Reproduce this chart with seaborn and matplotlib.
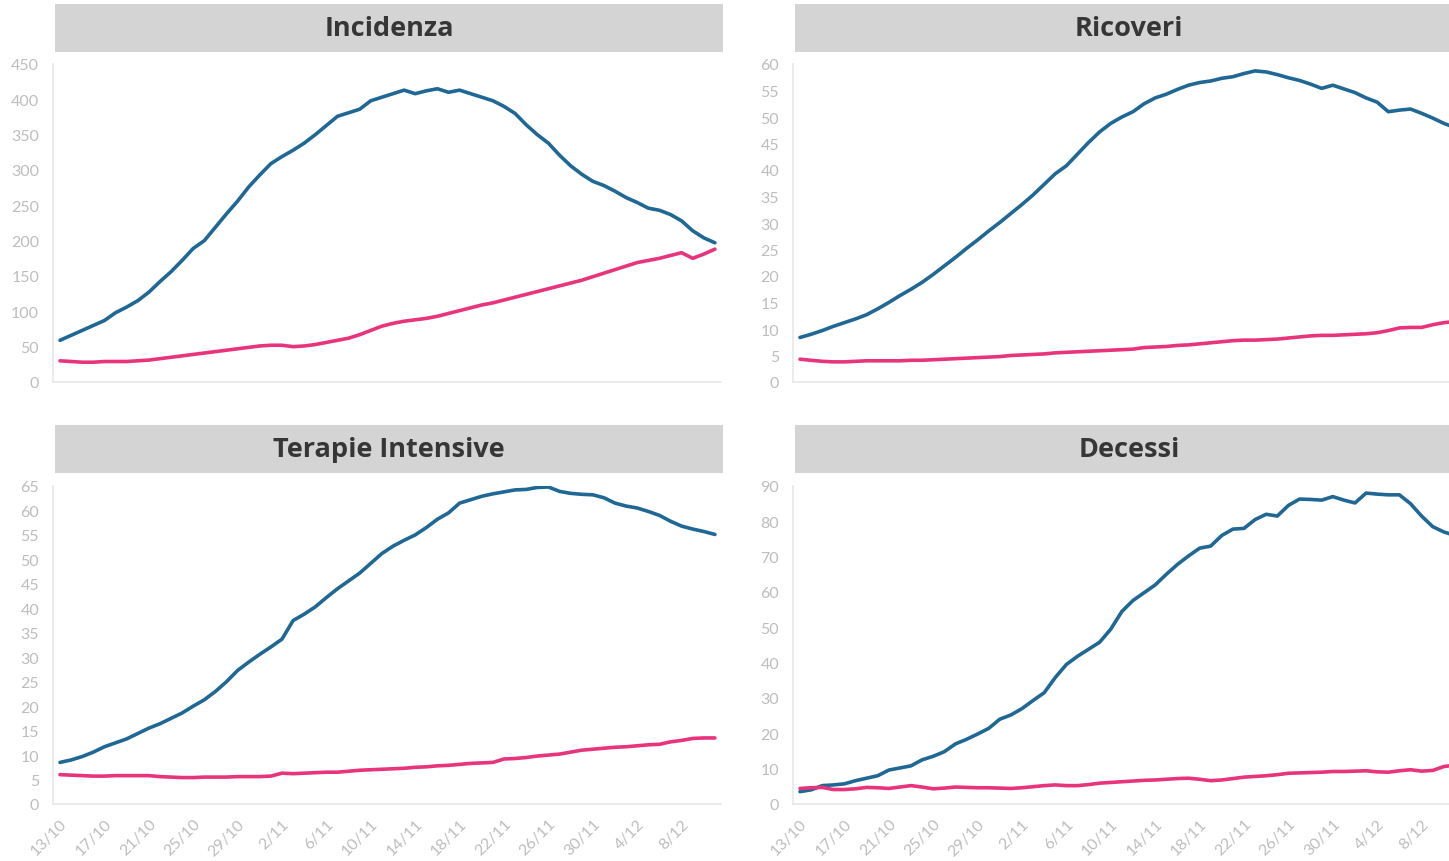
import seaborn as sns
import matplotlib.pyplot as plt
import matplotlib.patches as mpatches
import pandas as pd
import numpy as np

sns.set_theme(style='white')
plt.rcParams['font.family'] = ['Lato', 'DejaVu Sans']

# Dates: 13/10 -> 11/12 (daily)
dates = pd.date_range('2020-10-13', periods=60, freq='D')
date_labels = [f"{d.day}/{d.month}" for d in dates]

incidenza_blue = [59, 66, 73, 80, 87, 98, 106, 115, 127, 142,
                  156, 172, 189, 200, 219, 238, 256, 276, 293, 309,
                  319, 328, 338, 350, 363, 376, 381, 386, 398, 403,
                  408, 413, 408, 412, 415, 410, 413, 408, 403, 398,
                  390, 380, 364, 350, 338, 321, 306, 294, 284, 278,
                  270, 261, 254, 246, 243, 237, 228, 214, 204, 197]
incidenza_pink = [30, 29, 28, 28, 29, 29, 29, 30, 31, 33,
                  35, 37, 39, 41, 43, 45, 47, 49, 51, 52,
                  52, 50, 51, 53, 56, 59, 62, 67, 73, 79,
                  83, 86, 88, 90, 93, 97, 101, 105, 109, 112,
                  116, 120, 124, 128, 132, 136, 140, 144, 149, 154,
                  159, 164, 169, 172, 175, 179, 183, 175, 181, 188]

ricoveri_blue = [8.4, 9.0, 9.7, 10.5, 11.2, 11.9, 12.7, 13.8, 15.0, 16.3,
                 17.5, 18.8, 20.3, 21.9, 23.5, 25.2, 26.8, 28.5, 30.1, 31.8,
                 33.5, 35.3, 37.3, 39.3, 40.8, 43.0, 45.2, 47.2, 48.8, 50.0,
                 51.0, 52.5, 53.6, 54.3, 55.2, 56.0, 56.5, 56.8, 57.3, 57.6,
                 58.2, 58.7, 58.5, 58.0, 57.4, 56.9, 56.2, 55.4, 56.0, 55.3,
                 54.6, 53.6, 52.8, 51.0, 51.3, 51.5, 50.7, 49.8, 48.8, 48.0]
ricoveri_pink = [4.3, 4.1, 3.9, 3.8, 3.8, 3.9, 4.0, 4.0, 4.0, 4.0,
                 4.1, 4.1, 4.2, 4.3, 4.4, 4.5, 4.6, 4.7, 4.8, 5.0,
                 5.1, 5.2, 5.3, 5.5, 5.6, 5.7, 5.8, 5.9, 6.0, 6.1,
                 6.2, 6.5, 6.6, 6.7, 6.9, 7.0, 7.2, 7.4, 7.6, 7.8,
                 7.9, 7.9, 8.0, 8.1, 8.3, 8.5, 8.7, 8.8, 8.8, 8.9,
                 9.0, 9.1, 9.3, 9.7, 10.2, 10.3, 10.3, 10.8, 11.2, 11.4]

terapie_blue = [8.5, 9.0, 9.7, 10.6, 11.7, 12.5, 13.3, 14.4, 15.5, 16.4,
                17.5, 18.6, 20.0, 21.3, 23.0, 25.0, 27.3, 29.0, 30.6, 32.1,
                33.7, 37.5, 38.8, 40.3, 42.2, 44.0, 45.6, 47.2, 49.2, 51.2,
                52.7, 53.9, 55.0, 56.5, 58.2, 59.5, 61.5, 62.2, 62.9, 63.4,
                63.8, 64.2, 64.3, 64.7, 64.8, 63.9, 63.5, 63.3, 63.2, 62.6,
                61.5, 60.9, 60.5, 59.8, 59.0, 57.8, 56.8, 56.2, 55.7, 55.1]
terapie_pink = [6.0, 5.9, 5.8, 5.7, 5.7, 5.8, 5.8, 5.8, 5.8, 5.6,
                5.5, 5.4, 5.4, 5.5, 5.5, 5.5, 5.6, 5.6, 5.6, 5.7,
                6.3, 6.2, 6.3, 6.4, 6.5, 6.5, 6.7, 6.9, 7.0, 7.1,
                7.2, 7.3, 7.5, 7.6, 7.8, 7.9, 8.1, 8.3, 8.4, 8.5,
                9.2, 9.3, 9.5, 9.8, 10.0, 10.2, 10.6, 11.0, 11.2, 11.4,
                11.6, 11.7, 11.9, 12.1, 12.2, 12.7, 13.0, 13.4, 13.5, 13.5]

decessi_blue = [3.5, 4.0, 5.2, 5.4, 5.7, 6.6, 7.3, 8.0, 9.6, 10.2,
                10.8, 12.5, 13.5, 14.8, 17.0, 18.3, 19.8, 21.4, 24.0, 25.2,
                27.0, 29.3, 31.5, 35.8, 39.5, 41.8, 43.8, 45.8, 49.5, 54.5,
                57.6, 59.8, 62.0, 65.0, 67.8, 70.2, 72.4, 73.0, 76.0, 77.8,
                78.0, 80.5, 82.0, 81.5, 84.5, 86.3, 86.2, 86.0, 87.0, 86.0,
                85.2, 88.0, 87.7, 87.5, 87.5, 85.0, 81.5, 78.5, 77.0, 76.0]
decessi_pink = [4.4, 4.6, 4.7, 4.1, 4.1, 4.3, 4.7, 4.6, 4.4, 4.8,
                5.2, 4.8, 4.3, 4.5, 4.8, 4.7, 4.6, 4.6, 4.5, 4.4,
                4.6, 4.9, 5.2, 5.4, 5.2, 5.2, 5.5, 5.9, 6.1, 6.3,
                6.5, 6.7, 6.8, 7.0, 7.2, 7.3, 7.0, 6.6, 6.8, 7.2,
                7.6, 7.8, 8.0, 8.3, 8.7, 8.8, 8.9, 9.0, 9.2, 9.2,
                9.3, 9.4, 9.1, 9.0, 9.4, 9.7, 9.3, 9.5, 10.6, 11.0]

panels = ['Incidenza', 'Ricoveri', 'Terapie Intensive', 'Decessi']
blue_series = [incidenza_blue, ricoveri_blue, terapie_blue, decessi_blue]
pink_series = [incidenza_pink, ricoveri_pink, terapie_pink, decessi_pink]
y_max = [450, 60, 65, 90]
y_step = [50, 5, 5, 10]

BLUE = '#1f6896'
PINK = '#e8347c'
GRID = '#e8e8e8'
TICK = '#bdbdbd'

W, H = 1449, 862
fig = plt.figure(figsize=(W / 100, H / 100), dpi=100)

# pixel layout (left x of axes, y of value-0 line)
ax_left = [53, 793, 53, 793]
ax_zero = [383, 383, 805, 805]
ax_w, ax_h = 668, 318
box_top = [5, 5, 426, 426]
box_h = 48

days = np.arange(len(dates))

for i, name in enumerate(panels):
    ax = fig.add_axes([ax_left[i] / W, (H - ax_zero[i]) / H, ax_w / W, ax_h / H])
    df = pd.DataFrame({'day': np.concatenate([days, days]),
                       'value': blue_series[i] + pink_series[i],
                       'serie': ['a'] * len(days) + ['b'] * len(days)})
    sns.lineplot(data=df, x='day', y='value', hue='serie',
                 palette={'a': BLUE, 'b': PINK}, linewidth=2.6,
                 legend=False, ax=ax)
    ax.set_xlim(-0.63, 59.55)
    ax.set_ylim(0, y_max[i])
    ax.set_yticks(np.arange(0, y_max[i] + 1, y_step[i]))
    ax.set_xticks(days)
    if i >= 2:
        ax.set_xticklabels([lab if k % 4 == 0 else '' for k, lab in enumerate(date_labels)],
                           rotation=45, ha='right', va='top', rotation_mode='anchor')
    else:
        ax.set_xticklabels([])
    ax.set_xlabel('')
    ax.set_ylabel('')
    sns.despine(ax=ax, top=True, right=True)
    for side in ['left', 'bottom']:
        ax.spines[side].set_color(GRID)
        ax.spines[side].set_linewidth(1.2)
    ax.tick_params(axis='both', which='major', length=6, width=1, color=GRID,
                   labelcolor=TICK, labelsize=11.5, direction='out')
    ax.tick_params(axis='y', pad=4)
    ax.tick_params(axis='x', pad=3)
    ax.grid(False)

    # grey title strip
    bx = (ax_left[i] + 2) / W
    by = (H - box_top[i] - box_h) / H
    fig.patches.append(mpatches.Rectangle((bx, by), ax_w / W, box_h / H,
                                          transform=fig.transFigure,
                                          facecolor='#d4d4d4', edgecolor='none'))
    fig.text(bx + ax_w / W / 2, by + box_h / H / 2, name, ha='center', va='center',
             fontsize=19.5, fontweight='bold', color='#363636',
             family=['Open Sans', 'DejaVu Sans'])

fig.savefig('out.png', dpi=100)
